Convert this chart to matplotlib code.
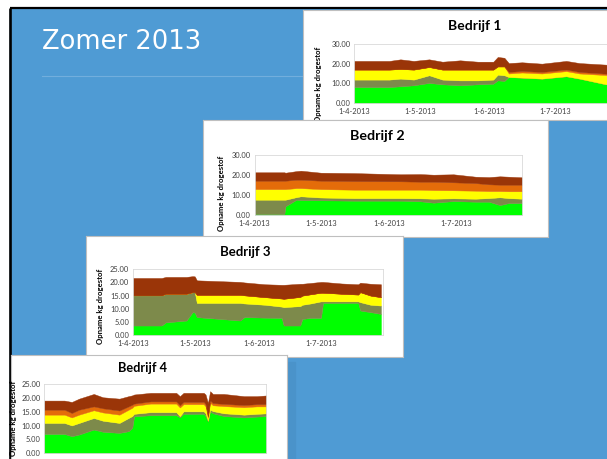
import numpy as np
import matplotlib
matplotlib.use("Agg")
import matplotlib.pyplot as plt
from matplotlib.patches import Rectangle

plt.rcParams['font.family'] = ['Lato', 'DejaVu Sans']

# ---------------- data ----------------
start_date = "2013-04-01"
month_ticks = ["2013-04-01", "2013-05-01", "2013-06-01", "2013-07-01"]
month_labels = ["1-4-2013", "1-5-2013", "1-6-2013", "1-7-2013"]
series_names = ["groen", "olijf", "geel", "oranje", "bruin"]
series_colors = ["#00FF00", "#7D8A4B", "#FFFF00", "#E46C0A", "#9A3508"]

# Bedrijf 1 (days since 1-4-2013)
p1_days = [0, 16, 21, 27, 34, 40, 48, 56, 63, 65, 68, 70, 76, 85, 96, 102, 114, 122]
p1_green = [8.1, 8.1, 8.5, 9.0, 10.2, 9.5, 9.0, 9.5, 9.8, 11.5, 11.2, 13.2, 12.9, 12.4, 13.6, 12.4, 9.5, 9.0]
p1_olive = [3.8, 3.8, 3.9, 2.9, 3.9, 2.4, 2.5, 2.0, 2.1, 2.9, 2.9, 0, 0, 0, 0, 0, 0, 0]
p1_yellow = [5.1, 5.1, 4.9, 5.1, 4.2, 5.1, 5.5, 5.5, 5.1, 4.2, 4.5, 1.8, 2.6, 2.6, 2.6, 2.6, 4.7, 5.0]
p1_orange = [0, 0, 0, 0, 0, 0, 0, 0, 0, 0, 0, 0.8, 0.8, 0.8, 0.8, 0.8, 0.7, 0.7]
p1_brown = [4.4, 4.4, 4.9, 4.4, 3.9, 4.0, 4.7, 4.0, 4.0, 4.8, 4.4, 4.5, 4.4, 4.2, 4.4, 4.5, 4.6, 4.6]

# Bedrijf 2
p2_days = [0, 13.5, 14, 19, 21, 30, 45, 66, 75, 81, 90, 100, 106, 111, 115, 121]
p2_green = [0.3, 0.3, 4.2, 7.5, 7.3, 7.2, 7.0, 7.0, 6.7, 6.0, 6.8, 6.5, 6.5, 4.8, 5.8, 5.8]
p2_olive = [7.2, 7.2, 3.3, 1.3, 1.9, 1.4, 1.3, 1.3, 1.5, 2.0, 1.4, 1.5, 1.8, 3.9, 2.5, 2.2]
p2_yellow = [5.3, 5.3, 5.3, 4.5, 4.1, 4.2, 4.2, 4.2, 4.3, 4.3, 4.0, 4.0, 3.5, 3.1, 3.4, 3.7]
p2_orange = [4.2, 4.2, 4.2, 4.2, 4.2, 4.2, 4.3, 4.2, 4.0, 4.2, 4.0, 3.8, 3.4, 3.2, 3.3, 3.3]
p2_brown = [4.2, 4.2, 4.0, 4.3, 4.5, 4.0, 4.0, 3.5, 3.8, 3.5, 4.0, 3.2, 3.6, 4.2, 4.0, 3.7]

# Bedrijf 3
p3_days = [0, 14, 16, 26, 29, 30, 31, 52, 54, 64, 72, 73, 81, 82, 86, 91, 92, 101, 109, 110, 115, 120]
p3_green = [3.6, 3.6, 4.8, 5.5, 8.7, 8.5, 6.8, 5.5, 6.8, 6.6, 6.5, 3.6, 3.6, 6.1, 6.5, 6.5, 12.2, 12.2, 12.2, 9.3, 8.7, 8.0]
p3_olive = [11.5, 11.5, 10.9, 10.2, 7.6, 7.8, 5.4, 6.7, 5.2, 4.9, 4.3, 7.0, 7.4, 5.4, 5.5, 6.3, 0.6, 0.6, 0.6, 3.2, 2.8, 3.2]
p3_yellow = [0, 0, 0, 0, 0, 0, 3.1, 3.1, 3.1, 2.9, 3.1, 3.2, 3.5, 3.5, 3.5, 3.3, 3.3, 2.9, 2.6, 3.8, 3.5, 3.2]
p3_orange = [0] * 22
p3_brown = [6.6, 6.6, 6.4, 6.4, 6.1, 6.0, 5.5, 4.9, 4.9, 4.9, 5.2, 5.3, 5.0, 4.5, 4.3, 4.1, 4.1, 3.9, 3.9, 3.6, 4.5, 4.9]

# Bedrijf 4
p4_days = [0, 11, 15, 19, 27, 32, 41, 46, 48, 49, 58, 72, 74, 76, 87, 88, 89.3, 90.5, 92, 98, 109, 116, 122]
p4_green = [7.0, 7.0, 6.2, 6.8, 8.6, 7.8, 7.4, 8.0, 9.2, 13.4, 13.8, 13.8, 13.0, 14.3, 14.3, 13.5, 11.6, 15.2, 14.5, 13.5, 13.0, 13.3, 13.5]
p4_olive = [4.0, 4.0, 3.9, 4.2, 4.2, 4.0, 3.6, 4.8, 4.3, 0.9, 1.1, 1.1, 0.4, 0.9, 0.9, 1.0, 0.2, 0.6, 0.8, 1.0, 1.0, 1.0, 1.0]
p4_yellow = [3.0, 3.0, 2.9, 3.0, 2.8, 3.0, 3.0, 3.0, 3.0, 2.9, 3.1, 3.1, 3.2, 2.6, 2.6, 2.5, 1.1, 2.5, 2.1, 2.6, 2.7, 2.7, 2.5]
p4_orange = [1.8, 1.8, 1.6, 1.8, 1.4, 1.5, 1.5, 1.2, 1.1, 0.8, 0.8, 0.8, 0.8, 0.8, 0.8, 0.8, 0.5, 0.8, 0.8, 0.8, 0.8, 0.8, 0.8]
p4_brown = [3.3, 3.3, 4.0, 4.0, 4.5, 4.0, 4.3, 3.7, 3.4, 3.3, 3.1, 3.1, 3.3, 3.3, 3.3, 3.5, 4.8, 3.4, 3.3, 3.6, 3.2, 2.9, 3.2]

panel_titles = ["Bedrijf 1", "Bedrijf 2", "Bedrijf 3", "Bedrijf 4"]
y_label = "Opname kg drogestof"
slide_title = "Zomer 2013"

# ---------------- layout ----------------
W, H = 607, 459
fig = plt.figure(figsize=(W / 100, H / 100), dpi=100)


def axes_px(x0, y0, x1, y1):
    return fig.add_axes([x0 / W, 1 - y1 / H, (x1 - x0) / W, (y1 - y0) / H])


bg = axes_px(0, 0, W, H)
bg.set_xlim(0, W)
bg.set_ylim(H, 0)
bg.axis('off')
bg.add_patch(Rectangle((0, 0), W, H, color='white'))
bg.add_patch(Rectangle((10, 8.5), W - 10, H - 8.5, color='#4F9BD4'))
bg.add_patch(Rectangle((287, 362), 8, H - 362, color='#4A93CA'))
bg.plot([9.6, 9.6], [7.5, H], color='black', lw=1.9, solid_capstyle='butt')
bg.plot([9.6, W], [8.2, 8.2], color='black', lw=1.6, solid_capstyle='butt')
bg.text(42, 49, slide_title, color='white', fontsize=18.5, family='DejaVu Sans', va='baseline')
bg.plot([42, 303], [76, 76], color='#72AEDD', lw=0.8)

panels = [
    dict(rect=(303, 10, 660, 120), plot=(354, 44, 621.5, 103), ymax=30, ystep=10,
         title_xy=(475, 26), tsize=10, ylab_xy=(318, 84), xlabels=True,
         data=(p1_days, p1_green, p1_olive, p1_yellow, p1_orange, p1_brown)),
    dict(rect=(203, 119.5, 548, 237), plot=(254.5, 154.7, 522, 214.7), ymax=30, ystep=10,
         title_xy=(377, 136), tsize=10.3, ylab_xy=(221, 193), xlabels=True,
         data=(p2_days, p2_green, p2_olive, p2_yellow, p2_orange, p2_brown)),
    dict(rect=(86, 236, 403, 357), plot=(132.7, 269.3, 383, 335), ymax=25, ystep=5,
         title_xy=(245, 252), tsize=9.5, ylab_xy=(100, 306), xlabels=True,
         data=(p3_days, p3_green, p3_olive, p3_yellow, p3_orange, p3_brown)),
    dict(rect=(11, 355, 287, 480), plot=(44.3, 384.3, 266, 453.3), ymax=25, ystep=5,
         title_xy=(143, 368), tsize=9.2, ylab_xy=(14, 418), xlabels=False,
         data=(p4_days, p4_green, p4_olive, p4_yellow, p4_orange, p4_brown)),
]

tick_days = [(np.datetime64(m) - np.datetime64(start_date)).astype(int) for m in month_ticks]

for i, p in enumerate(panels):
    x0, y0, x1, y1 = p['rect']
    pb = axes_px(x0, y0, x1, y1)
    pb.set_xlim(x0, x1)
    pb.set_ylim(y1, y0)
    pb.set_xticks([])
    pb.set_yticks([])
    pb.set_facecolor('white')
    for s in pb.spines.values():
        s.set_color('#BFBFBF')
        s.set_linewidth(0.8)
    pb.text(p['title_xy'][0], p['title_xy'][1], panel_titles[i], fontsize=p['tsize'],
            fontweight='bold', ha='center', va='center', color='black', clip_on=False)
    pb.text(p['ylab_xy'][0], p['ylab_xy'][1], y_label, fontsize=5.6, fontweight='bold',
            rotation=90, ha='center', va='center', color='black', clip_on=False)

    px0, py0, px1, py1 = p['plot']
    ax = axes_px(px0, py0, px1, py1)
    days = p['data'][0]
    polys = ax.stackplot(days, *p['data'][1:], colors=series_colors, labels=series_names)
    for poly, c in zip(polys, series_colors):
        poly.set_edgecolor(c)
        poly.set_linewidth(0.3)
    ax.set_xlim(0, 121)
    ax.set_ylim(0, p['ymax'])
    yt = np.arange(0, p['ymax'] + 0.1, p['ystep'])
    ax.set_yticks(yt)
    ax.set_yticklabels([f"{v:.2f}" for v in yt])
    ax.set_xticks(tick_days)
    if p['xlabels']:
        ax.set_xticklabels(month_labels)
    else:
        ax.set_xticklabels([])
    ax.tick_params(length=0, labelsize=5.4, colors='#404040')
    ax.tick_params(axis='y', pad=2.5)
    ax.tick_params(axis='x', pad=3.5)
    ax.set_facecolor('white')
    for s in ax.spines.values():
        s.set_color('#D9D9D9')
        s.set_linewidth(0.6)

fig.savefig("out.png", dpi=100)
